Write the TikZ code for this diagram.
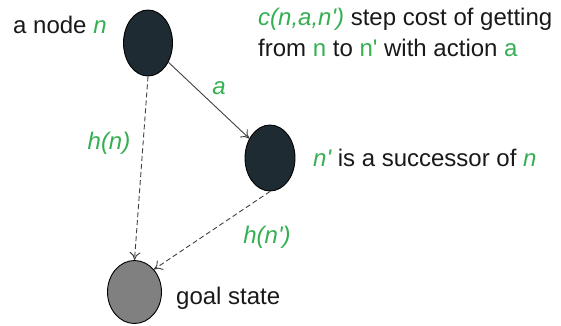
\documentclass[tikz,border=0pt]{standalone}
\usepackage{fontspec}
\setmainfont{Liberation Sans}[Ligatures=TeXOff]
\usetikzlibrary{arrows.meta,shapes.geometric}
\definecolor{grn}{RGB}{52,176,82}
\definecolor{dark}{RGB}{31,43,50}
\definecolor{txt}{RGB}{25,25,25}
\begin{document}
\begin{tikzpicture}[x=1pt,y=-1pt,
  state/.style={ellipse, draw=black, line width=0.9pt, inner sep=0pt},
  lbl/.style={font=\fontsize{24}{28}\selectfont, text=txt, inner sep=0pt},
  glbl/.style={lbl, text=grn, font=\fontsize{24}{28}\selectfont\itshape},
  edge/.style={draw=black!75, line width=0.9pt, -{To[length=8pt,width=11pt]}},
  hedge/.style={edge, dash pattern=on 5pt off 3pt}]
\useasboundingbox (0,0) rectangle (561,325);
\node[state, fill=dark, minimum width=49pt, minimum height=66pt] (n) at (148,43) {};
\node[state, fill=dark, minimum width=50pt, minimum height=66pt] (np) at (270,158) {};
\node[state, fill=black!50, minimum width=54pt, minimum height=63pt] (g) at (134.5,292) {};
\draw[edge] (n) -- (np);
\draw[hedge] (n.south) -- (g.north);
\draw[hedge] (np.south) -- (g.north east);
\node[lbl, anchor=west] (t1) at (13,25) {a node \textcolor{grn}{\itshape n}};
\node[lbl, anchor=west] (t2) at (258,19) {\textcolor{grn}{\itshape c(n,a,n')} step cost of getting};
\node[lbl, anchor=west] (t3) at (258,48) {from \textcolor{grn}{n} to \textcolor{grn}{n'} with action \textcolor{grn}{a}};
\node[glbl] (la) at (219,88) {a};
\node[glbl] (lh) at (109,143) {h(n)};
\node[lbl, anchor=west] (t4) at (313,158) {\textcolor{grn}{\itshape n'} is a successor of \textcolor{grn}{\itshape n}};
\node[glbl] (lhp) at (267,237) {h(n')};
\node[lbl, anchor=west] (t5) at (176,298) {goal state};
\end{tikzpicture}
\end{document}
